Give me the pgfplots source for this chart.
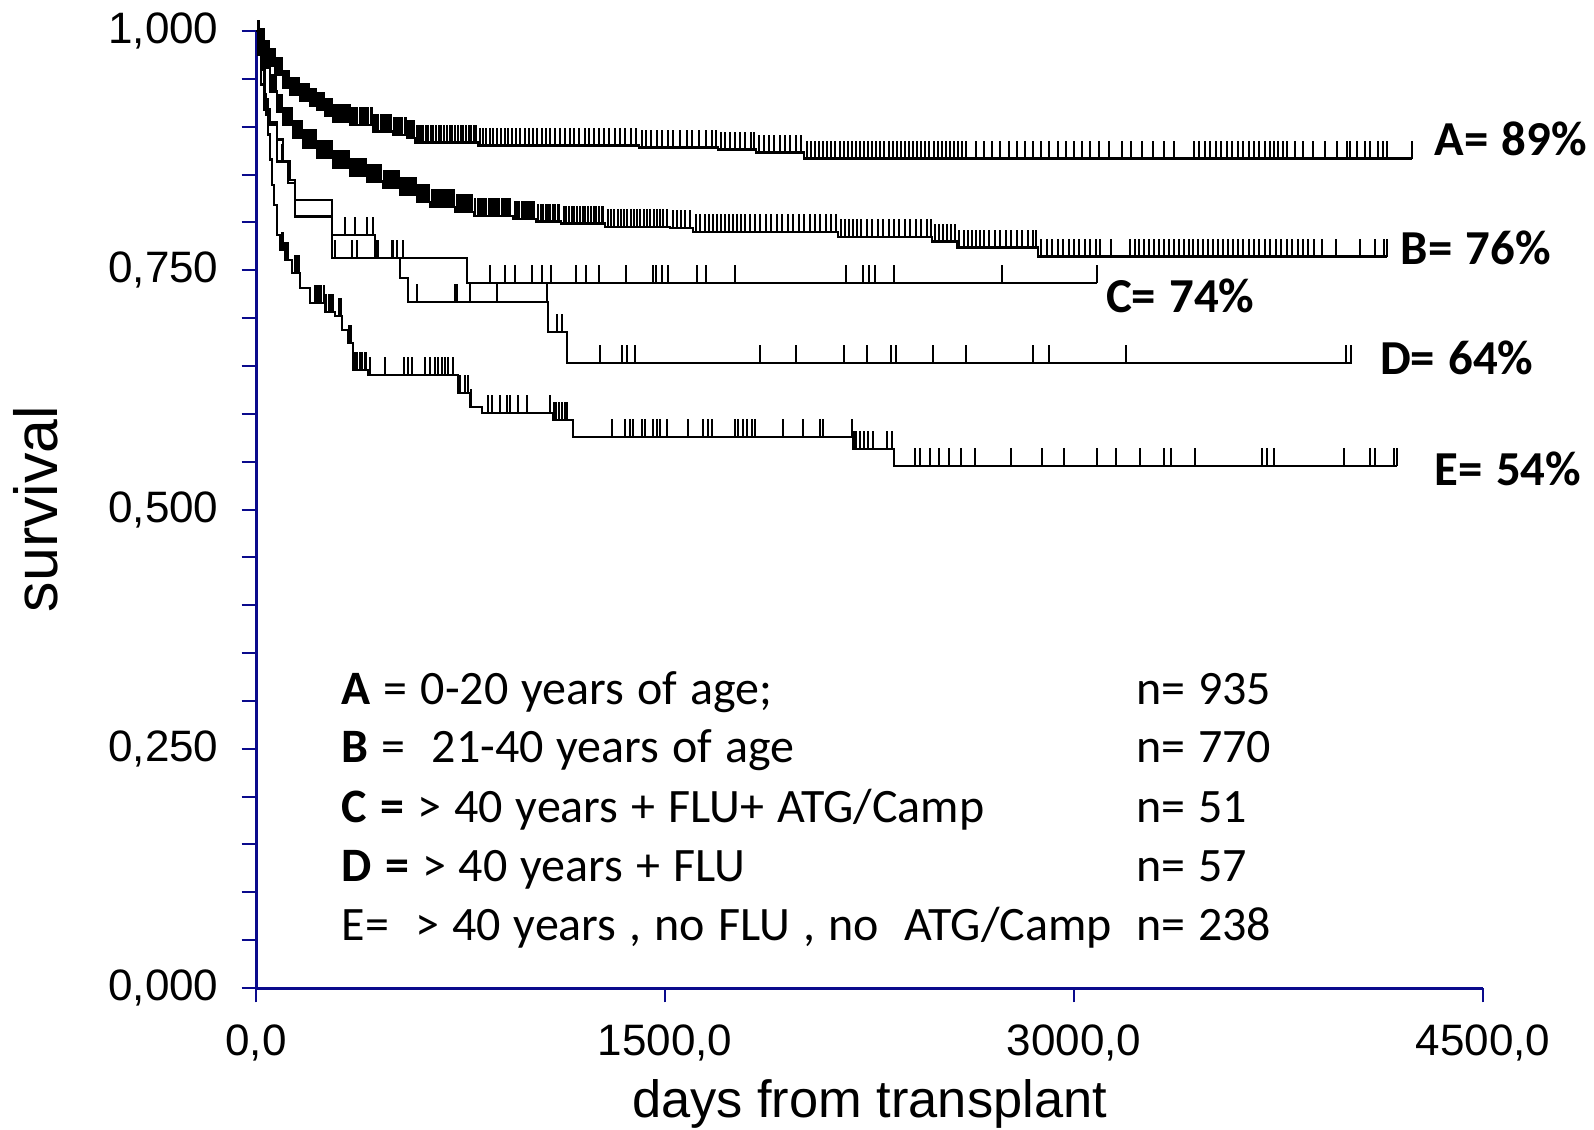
\documentclass[border=0pt]{standalone}
\usepackage{fontspec}
\setmainfont{Liberation Sans}
\newfontfamily\calibri[WordSpace=1.2]{Carlito}
\usepackage{pgfplots}
\pgfplotsset{compat=1.18}
\definecolor{axnavy}{RGB}{10,10,140}
\pgfdeclareplotmark{cens}{\pgfpathmoveto{\pgfpointorigin}\pgfpathlineto{\pgfpoint{0pt}{4.5pt}}\pgfusepathqstroke}
\begin{document}
\begin{tikzpicture}
\useasboundingbox (-64pt,-35.25pt) rectangle (334.5pt,247pt);
\begin{axis}[
  at={(0pt,0pt)}, anchor=south west,
  scale only axis, width=306.75pt, height=239.25pt,
  xmin=0, xmax=4500, ymin=0, ymax=1,
  axis x line*=bottom, axis y line*=left,
  axis line style={axnavy, line width=0.75pt},
  xtick={0,1500,3000,4500},
  ytick={0,0.25,0.5,0.75,1},
  minor ytick={0.05,0.1,0.15,0.2,0.3,0.35,0.4,0.45,0.55,0.6,0.65,0.7,0.8,0.85,0.9,0.95},
  tick align=outside,
  major tick length=3.6pt, minor tick length=3.6pt,
  every tick/.style={axnavy, line width=0.5pt},
  every minor tick/.style={axnavy, line width=0.5pt},
  scaled x ticks=false, scaled y ticks=false,
  xticklabel style={yshift=-2pt, /pgf/number format/fixed, /pgf/number format/fixed zerofill, /pgf/number format/precision=1, /pgf/number format/use comma, /pgf/number format/1000 sep={}},
  yticklabel style={xshift=-2.25pt, /pgf/number format/fixed, /pgf/number format/fixed zerofill, /pgf/number format/precision=3, /pgf/number format/use comma, /pgf/number format/1000 sep={}},
  /pgf/number format/assume math mode=true,
  tick label style={font=\fontsize{11}{12}\selectfont, text=black},
  clip=false,
]
% ---------- A ----------
\addplot[const plot, black, line width=0.55pt] coordinates {
(0,1.0)(7,0.9932)(15,0.9848)(33,0.9723)(51,0.9639)(70,0.9545)(99,0.9409)(125,0.9336)(161,0.9268)(198,0.9221)(224,0.9179)(253,0.9117)(282,0.9054)(345,0.9022)(429,0.8949)(502,0.8913)(554,0.8882)(583,0.8834)(814,0.8803)(1404,0.8782)(1694,0.8761)(1834,0.8730)(2010,0.8667)(4239,0.8667)};
\addplot[only marks, mark=cens, black, mark options={line width=0.5pt}] coordinates {
(9,0.9932)(12,0.9932)
(17,0.9848)(20,0.9848)(23,0.9848)(26,0.9848)(29,0.9848)(31,0.9848)
(35,0.9723)(38,0.9723)(41,0.9723)(44,0.9723)(47,0.9723)(49,0.9723)
(53,0.9639)(56,0.9639)(59,0.9639)(62,0.9639)(65,0.9639)(68,0.9639)
(72,0.9545)(75,0.9545)(78,0.9545)(82,0.9545)(85,0.9545)(88,0.9545)(91,0.9545)(94,0.9545)(97,0.9545)
(101,0.9409)(105,0.9409)(109,0.9409)(113,0.9409)(117,0.9409)(121,0.9409)
(128,0.9336)(132,0.9336)(136,0.9336)(140,0.9336)(145,0.9336)(150,0.9336)(155,0.9336)(158,0.9336)
(164,0.9268)(169,0.9268)(174,0.9268)(179,0.9268)(184,0.9268)(189,0.9268)(194,0.9268)
(201,0.9221)(206,0.9221)(211,0.9221)(216,0.9221)(221,0.9221)
(227,0.9179)(232,0.9179)(237,0.9179)(242,0.9179)(247,0.9179)(251,0.9179)
(256,0.9117)(261,0.9117)(266,0.9117)(271,0.9117)(276,0.9117)(280,0.9117)
(286,0.9054)(292,0.9054)(298,0.9054)(305,0.9054)(312,0.9054)(318,0.9054)(325,0.9054)(332,0.9054)(338,0.9054)(343,0.9054)
(350,0.9022)(357,0.9022)(364,0.9022)(372,0.9022)(380,0.9022)(388,0.9022)(396,0.9022)(404,0.9022)(412,0.9022)(420,0.9022)(426,0.9022)
(433,0.8949)(441,0.8949)(449,0.8949)(457,0.8949)(465,0.8949)(473,0.8949)(481,0.8949)(489,0.8949)(496,0.8949)
(507,0.8913)(514,0.8913)(521,0.8913)(529,0.8913)(537,0.8913)(545,0.8913)(551,0.8913)
(558,0.8882)(565,0.8882)(572,0.8882)(579,0.8882)
(590,0.8834)(598,0.8834)(606,0.8834)(614,0.8834)(622,0.8834)(630,0.8834)(640,0.8834)(650,0.8834)(660,0.8834)(670,0.8834)(680,0.8834)(690,0.8834)(700,0.8834)(710,0.8834)(720,0.8834)(730,0.8834)(740,0.8834)(750,0.8834)(760,0.8834)(770,0.8834)(780,0.8834)(790,0.8834)(800,0.8834)(808,0.8834)
(820,0.8803)(832,0.8803)(845,0.8803)(858,0.8803)(870,0.8803)(884,0.8803)(898,0.8803)(912,0.8803)(925,0.8803)(940,0.8803)(955,0.8803)(970,0.8803)(985,0.8803)(1000,0.8803)(1015,0.8803)(1030,0.8803)(1048,0.8803)(1065,0.8803)(1080,0.8803)(1098,0.8803)(1115,0.8803)(1132,0.8803)(1150,0.8803)(1168,0.8803)(1185,0.8803)(1205,0.8803)(1222,0.8803)(1240,0.8803)(1258,0.8803)(1278,0.8803)(1296,0.8803)(1315,0.8803)(1335,0.8803)(1355,0.8803)(1375,0.8803)(1395,0.8803)
(1415,0.8782)(1432,0.8782)(1450,0.8782)(1470,0.8782)(1490,0.8782)(1510,0.8782)(1530,0.8782)(1555,0.8782)(1580,0.8782)(1600,0.8782)(1625,0.8782)(1650,0.8782)(1672,0.8782)(1688,0.8782)
(1705,0.8761)(1720,0.8761)(1738,0.8761)(1755,0.8761)(1775,0.8761)(1795,0.8761)(1815,0.8761)(1828,0.8761)
(1845,0.8730)(1862,0.8730)(1880,0.8730)(1900,0.8730)(1920,0.8730)(1940,0.8730)(1960,0.8730)(1980,0.8730)(2000,0.8730)
(2020,0.8667)(2035,0.8667)(2050,0.8667)(2065,0.8667)(2080,0.8667)(2095,0.8667)(2110,0.8667)(2125,0.8667)(2140,0.8667)(2155,0.8667)(2170,0.8667)(2185,0.8667)(2200,0.8667)(2215,0.8667)(2230,0.8667)(2245,0.8667)(2260,0.8667)(2275,0.8667)(2290,0.8667)(2305,0.8667)(2320,0.8667)(2335,0.8667)(2350,0.8667)(2365,0.8667)(2380,0.8667)(2395,0.8667)(2410,0.8667)(2425,0.8667)(2440,0.8667)(2455,0.8667)(2470,0.8667)(2485,0.8667)(2500,0.8667)(2515,0.8667)(2530,0.8667)(2545,0.8667)(2560,0.8667)(2575,0.8667)(2590,0.8667)(2605,0.8667)
(2640,0.8667)(2670,0.8667)(2700,0.8667)(2730,0.8667)(2760,0.8667)(2790,0.8667)(2820,0.8667)(2850,0.8667)(2880,0.8667)(2910,0.8667)(2940,0.8667)(2970,0.8667)(3000,0.8667)(3030,0.8667)(3060,0.8667)(3090,0.8667)(3130,0.8667)(3175,0.8667)(3210,0.8667)(3250,0.8667)(3290,0.8667)(3330,0.8667)(3365,0.8667)
(3440,0.8667)(3460,0.8667)(3480,0.8667)(3500,0.8667)(3520,0.8667)(3540,0.8667)(3560,0.8667)(3580,0.8667)(3600,0.8667)(3620,0.8667)(3640,0.8667)(3660,0.8667)(3680,0.8667)(3700,0.8667)(3718,0.8667)(3733,0.8667)(3748,0.8667)(3766,0.8667)(3781,0.8667)(3810,0.8667)(3839,0.8667)(3876,0.8667)(3920,0.8667)(3964,0.8667)(4001,0.8667)(4012,0.8667)(4037,0.8667)(4067,0.8667)(4085,0.8667)(4114,0.8667)(4133,0.8667)(4147,0.8667)(4239,0.8667)};
% ---------- B ----------
\addplot[const plot, black, line width=0.55pt] coordinates {
(0,1.0)(7,0.9911)(15,0.9786)(26,0.9618)(51,0.9367)(77,0.9158)(99,0.9022)(136,0.8887)(172,0.8783)(224,0.8677)(282,0.8573)(345,0.8489)(407,0.8427)(466,0.8364)(528,0.8291)(590,0.8217)(638,0.8165)(730,0.8113)(799,0.8071)(942,0.8039)(1027,0.8009)(1118,0.7988)(1280,0.7950)(1518,0.7940)(1602,0.7904)(2134,0.7851)(2479,0.7800)(2571,0.7737)(2868,0.7643)(4147,0.7643)};
\addplot[only marks, mark=cens, black, mark options={line width=0.5pt}] coordinates {
(9,0.9911)(12,0.9911)
(17,0.9786)(19,0.9786)(21,0.9786)(23,0.9786)(25,0.9786)
(28,0.9618)(31,0.9618)(34,0.9618)(37,0.9618)(40,0.9618)(43,0.9618)(46,0.9618)(49,0.9618)
(53,0.9367)(56,0.9367)(59,0.9367)(62,0.9367)(65,0.9367)(68,0.9367)(71,0.9367)(74,0.9367)
(79,0.9158)(82,0.9158)(85,0.9158)(88,0.9158)(91,0.9158)(94,0.9158)(97,0.9158)
(101,0.9022)(105,0.9022)(109,0.9022)(113,0.9022)(117,0.9022)(121,0.9022)(125,0.9022)(129,0.9022)(133,0.9022)
(139,0.8887)(143,0.8887)(147,0.8887)(151,0.8887)(155,0.8887)(159,0.8887)(163,0.8887)(167,0.8887)(170,0.8887)
(175,0.8783)(180,0.8783)(185,0.8783)(190,0.8783)(195,0.8783)(200,0.8783)(205,0.8783)(210,0.8783)(215,0.8783)(220,0.8783)
(228,0.8677)(233,0.8677)(238,0.8677)(243,0.8677)(248,0.8677)(253,0.8677)(258,0.8677)(263,0.8677)(268,0.8677)(273,0.8677)(278,0.8677)
(286,0.8573)(292,0.8573)(298,0.8573)(304,0.8573)(310,0.8573)(316,0.8573)(322,0.8573)(328,0.8573)(334,0.8573)(340,0.8573)
(350,0.8489)(356,0.8489)(362,0.8489)(368,0.8489)(374,0.8489)(380,0.8489)(386,0.8489)(392,0.8489)(398,0.8489)(403,0.8489)
(412,0.8427)(418,0.8427)(424,0.8427)(430,0.8427)(436,0.8427)(442,0.8427)(448,0.8427)(454,0.8427)(460,0.8427)
(471,0.8364)(477,0.8364)(483,0.8364)(489,0.8364)(495,0.8364)(501,0.8364)(507,0.8364)(513,0.8364)(519,0.8364)(524,0.8364)
(533,0.8291)(539,0.8291)(545,0.8291)(551,0.8291)(557,0.8291)(563,0.8291)(569,0.8291)(575,0.8291)(581,0.8291)(586,0.8291)
(595,0.8217)(601,0.8217)(607,0.8217)(613,0.8217)(619,0.8217)(625,0.8217)(631,0.8217)(635,0.8217)
(644,0.8165)(651,0.8165)(658,0.8165)(665,0.8165)(672,0.8165)(679,0.8165)(686,0.8165)(693,0.8165)(700,0.8165)(707,0.8165)(714,0.8165)(721,0.8165)(727,0.8165)
(736,0.8113)(743,0.8113)(750,0.8113)(757,0.8113)(764,0.8113)(771,0.8113)(778,0.8113)(785,0.8113)(792,0.8113)
(805,0.8071)(813,0.8071)(821,0.8071)(829,0.8071)(837,0.8071)(845,0.8071)(853,0.8071)(861,0.8071)(869,0.8071)(877,0.8071)(885,0.8071)(893,0.8071)(901,0.8071)(909,0.8071)(917,0.8071)(925,0.8071)(933,0.8071)
(950,0.8039)(958,0.8039)(966,0.8039)(974,0.8039)(982,0.8039)(990,0.8039)(998,0.8039)(1006,0.8039)(1014,0.8039)(1021,0.8039)
(1035,0.8009)(1044,0.8009)(1053,0.8009)(1062,0.8009)(1071,0.8009)(1080,0.8009)(1089,0.8009)(1098,0.8009)(1106,0.8009)(1112,0.8009)
(1128,0.7988)(1138,0.7988)(1148,0.7988)(1158,0.7988)(1168,0.7988)(1178,0.7988)(1188,0.7988)(1198,0.7988)(1208,0.7988)(1218,0.7988)(1228,0.7988)(1238,0.7988)(1248,0.7988)(1258,0.7988)(1268,0.7988)(1274,0.7988)
(1290,0.7950)(1302,0.7950)(1314,0.7950)(1326,0.7950)(1338,0.7950)(1350,0.7950)(1362,0.7950)(1374,0.7950)(1386,0.7950)(1398,0.7950)(1410,0.7950)(1422,0.7950)(1434,0.7950)(1446,0.7950)(1458,0.7950)(1470,0.7950)(1482,0.7950)(1494,0.7950)(1506,0.7950)
(1530,0.7940)(1545,0.7940)(1560,0.7940)(1575,0.7940)(1590,0.7940)
(1615,0.7904)(1630,0.7904)(1645,0.7904)(1660,0.7904)(1675,0.7904)(1690,0.7904)(1705,0.7904)(1720,0.7904)(1735,0.7904)(1750,0.7904)(1765,0.7904)(1780,0.7904)(1795,0.7904)(1810,0.7904)(1830,0.7904)(1850,0.7904)(1870,0.7904)(1890,0.7904)(1910,0.7904)(1930,0.7904)(1950,0.7904)(1970,0.7904)(1990,0.7904)(2010,0.7904)(2030,0.7904)(2050,0.7904)(2070,0.7904)(2090,0.7904)(2110,0.7904)(2128,0.7904)
(2145,0.7851)(2160,0.7851)(2175,0.7851)(2190,0.7851)(2205,0.7851)(2220,0.7851)(2240,0.7851)(2260,0.7851)(2280,0.7851)(2300,0.7851)(2320,0.7851)(2340,0.7851)(2360,0.7851)(2380,0.7851)(2400,0.7851)(2420,0.7851)(2440,0.7851)(2460,0.7851)(2475,0.7851)
(2490,0.7800)(2505,0.7800)(2520,0.7800)(2535,0.7800)(2550,0.7800)(2565,0.7800)
(2580,0.7737)(2595,0.7737)(2610,0.7737)(2625,0.7737)(2640,0.7737)(2655,0.7737)(2670,0.7737)(2690,0.7737)(2710,0.7737)(2730,0.7737)(2750,0.7737)(2770,0.7737)(2790,0.7737)(2810,0.7737)(2830,0.7737)(2850,0.7737)(2862,0.7737)
(2880,0.7643)(2900,0.7643)(2920,0.7643)(2940,0.7643)(2960,0.7643)(2980,0.7643)(3000,0.7643)(3020,0.7643)(3040,0.7643)(3060,0.7643)(3080,0.7643)(3095,0.7643)(3135,0.7643)(3205,0.7643)(3222,0.7643)(3240,0.7643)(3258,0.7643)(3276,0.7643)(3294,0.7643)(3312,0.7643)(3330,0.7643)(3348,0.7643)(3366,0.7643)(3384,0.7643)(3402,0.7643)(3420,0.7643)(3438,0.7643)(3456,0.7643)(3474,0.7643)(3492,0.7643)(3510,0.7643)(3528,0.7643)(3546,0.7643)(3564,0.7643)(3582,0.7643)(3600,0.7643)(3620,0.7643)(3640,0.7643)(3660,0.7643)(3680,0.7643)(3700,0.7643)(3720,0.7643)(3740,0.7643)(3760,0.7643)(3780,0.7643)(3800,0.7643)(3820,0.7643)(3840,0.7643)(3860,0.7643)(3880,0.7643)(3909,0.7643)(3960,0.7643)(4048,0.7643)(4103,0.7643)(4136,0.7643)(4147,0.7643)};
% ---------- C ----------
\addplot[const plot, black, line width=0.55pt] coordinates {
(0,1.0)(7,0.9859)(22,0.9597)(33,0.9284)(44,0.9106)(51,0.9043)(77,0.8636)(117,0.8416)(143,0.8238)(279,0.7872)(436,0.7632)(774,0.7371)(3084,0.7371)};
\addplot[only marks, mark=cens, black, mark options={line width=0.5pt}] coordinates {
(95,0.8636)
(326,0.7872)(363,0.7872)(407,0.7872)(429,0.7872)
(447,0.7632)(502,0.7632)(517,0.7632)(539,0.7632)
(858,0.7371)(913,0.7371)(950,0.7371)(1012,0.7371)(1049,0.7371)(1082,0.7371)(1173,0.7371)(1210,0.7371)(1258,0.7371)(1357,0.7371)(1456,0.7371)(1467,0.7371)(1489,0.7371)(1511,0.7371)(1617,0.7371)(1650,0.7371)(1756,0.7371)(2164,0.7371)(2226,0.7371)(2248,0.7371)(2270,0.7371)(2340,0.7371)(2736,0.7371)(3084,0.7371)};
% ---------- D ----------
\addplot[const plot, black, line width=0.55pt] coordinates {
(0,1.0)(7,0.9755)(18,0.9441)(29,0.9179)(51,0.9022)(77,0.8866)(99,0.8636)(125,0.8447)(143,0.8061)(279,0.7632)(528,0.7423)(557,0.7172)(1071,0.6858)(1140,0.6534)(4019,0.6534)};
\addplot[only marks, mark=cens, black, mark options={line width=0.5pt}] coordinates {
(290,0.7632)(352,0.7632)(370,0.7632)(444,0.7632)(499,0.7632)
(590,0.7172)(730,0.7172)(737,0.7172)(785,0.7172)(884,0.7172)(1067,0.7172)
(1104,0.6858)(1122,0.6858)
(1261,0.6534)(1342,0.6534)(1360,0.6534)(1390,0.6534)(1848,0.6534)(1980,0.6534)(2156,0.6534)(2241,0.6534)(2329,0.6534)(2347,0.6534)(2483,0.6534)(2604,0.6534)(2849,0.6534)(2908,0.6534)(3190,0.6534)(3997,0.6534)(4015,0.6534)};
% ---------- E ----------
\addplot[const plot, black, line width=0.55pt] coordinates {
(0,1.0)(7,0.9932)(15,0.9754)(22,0.9597)(29,0.9336)(37,0.9127)(44,0.8918)(51,0.8657)(59,0.8395)(66,0.8186)(77,0.7872)(88,0.7716)(106,0.7611)(132,0.7475)(161,0.7318)(198,0.7161)(253,0.7067)(290,0.7026)(315,0.6879)(337,0.6743)(356,0.6461)(411,0.6409)(741,0.6221)(785,0.6074)(829,0.6011)(1089,0.5938)(1162,0.5761)(2189,0.5635)(2340,0.5457)(4184,0.5457)};
\addplot[only marks, mark=cens, black, mark options={line width=0.5pt}] coordinates {
(96,0.7716)(100,0.7716)(108,0.7611)(112,0.7611)(117,0.7611)
(143,0.7475)(148,0.7475)(153,0.7475)(158,0.7475)
(216,0.7161)(224,0.7161)(232,0.7161)(240,0.7161)(248,0.7161)
(258,0.7067)(266,0.7067)(274,0.7067)(282,0.7067)
(305,0.7026)(310,0.7026)
(340,0.6743)(345,0.6743)(350,0.6743)
(363,0.6461)(372,0.6461)(380,0.6461)(390,0.6461)(398,0.6461)(405,0.6461)
(418,0.6409)(473,0.6409)(543,0.6409)(557,0.6409)(572,0.6409)(620,0.6409)(638,0.6409)(656,0.6409)(667,0.6409)(682,0.6409)(693,0.6409)(704,0.6409)(722,0.6409)
(748,0.6221)(766,0.6221)(777,0.6221)
(788,0.6074)
(851,0.6011)(865,0.6011)(895,0.6011)(920,0.6011)(931,0.6011)(961,0.6011)(994,0.6011)(1078,0.6011)
(1093,0.5938)(1100,0.5938)(1111,0.5938)(1122,0.5938)(1133,0.5938)(1140,0.5938)
(1305,0.5761)(1353,0.5761)(1371,0.5761)(1382,0.5761)(1415,0.5761)(1426,0.5761)(1456,0.5761)(1471,0.5761)(1481,0.5761)(1507,0.5761)(1584,0.5761)(1639,0.5761)(1657,0.5761)(1672,0.5761)(1756,0.5761)(1767,0.5761)(1786,0.5761)(1800,0.5761)(1819,0.5761)(1830,0.5761)(1932,0.5761)(2006,0.5761)(2068,0.5761)(2079,0.5761)(2186,0.5761)
(2192,0.5635)(2200,0.5635)(2215,0.5635)(2230,0.5635)(2245,0.5635)(2263,0.5635)(2314,0.5635)(2332,0.5635)
(2417,0.5457)(2435,0.5457)(2472,0.5457)(2505,0.5457)(2541,0.5457)(2585,0.5457)(2637,0.5457)(2769,0.5457)(2882,0.5457)(2963,0.5457)(3084,0.5457)(3154,0.5457)(3242,0.5457)(3330,0.5457)(3355,0.5457)(3443,0.5457)(3689,0.5457)(3707,0.5457)(3733,0.5457)(3990,0.5457)(4085,0.5457)(4103,0.5457)(4173,0.5457)(4184,0.5457)};
% ---------- curve labels ----------
\begin{scope}[every node/.style={anchor=base west, inner sep=0pt, font=\calibri\bfseries\fontsize{12.2}{14}\selectfont}]
\node at (axis cs:4320,0.8698) {A= 89\%};
\node at (axis cs:4195,0.7562) {B= 76\%};
\node at (axis cs:3115,0.7062) {C= 74\%};
\node at (axis cs:4120,0.6413) {D= 64\%};
\node at (axis cs:4320,0.5253) {E= 54\%};
\end{scope}
% ---------- legend text ----------
\begin{scope}[every node/.style={anchor=base west, inner sep=0pt, font=\calibri\fontsize{12}{14}\selectfont}]
\node at (axis cs:312,0.2965) {\textbf{A} = 0-20 years of age;};
\node at (axis cs:312,0.2359) {\textbf{B} =\ \ 21-40 years of age};
\node at (axis cs:312,0.1732) {\textbf{C =} > 40 years + FLU+ ATG/Camp};
\node at (axis cs:312,0.1115) {\textbf{D =} > 40 years + FLU};
\node at (axis cs:312,0.0498) {E=\ \ > 40 years , no FLU , no\ \ ATG/Camp};
\node at (axis cs:3225,0.2965) {n= 935};
\node at (axis cs:3225,0.2359) {n= 770};
\node at (axis cs:3225,0.1732) {n= 51};
\node at (axis cs:3225,0.1115) {n= 57};
\node at (axis cs:3225,0.0498) {n= 238};
\end{scope}
\end{axis}
\node[rotate=90, inner sep=0pt, font=\fontsize{15.2}{17}\selectfont] at (-55pt,119.75pt) {survival};
\node[anchor=base, inner sep=0pt, font=\fontsize{13.1}{16}\selectfont] at (153.4pt,-32.25pt) {days from transplant};
\end{tikzpicture}
\end{document}
